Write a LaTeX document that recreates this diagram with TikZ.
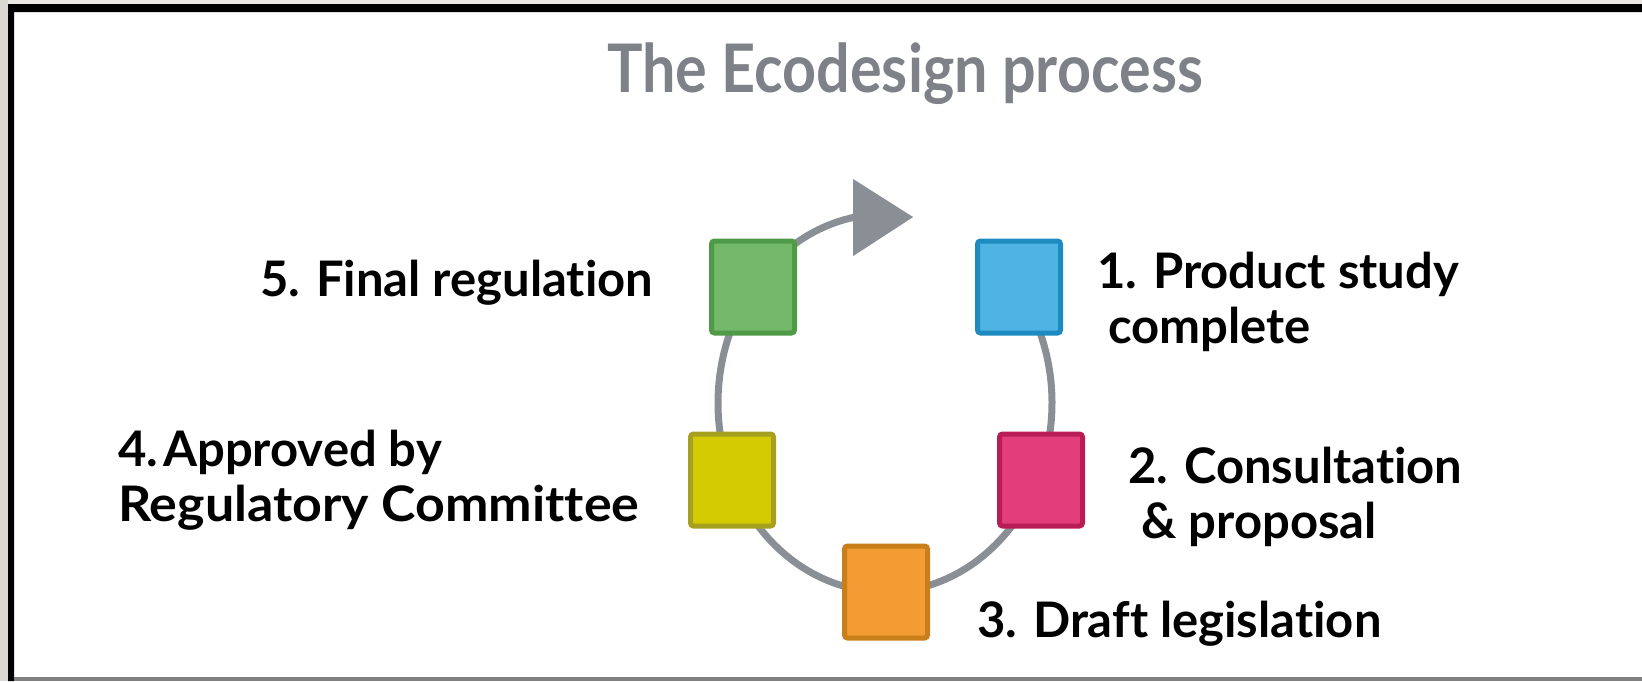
\documentclass[tikz,border=0pt]{standalone}
\usepackage{fontspec}
\setmainfont{Lato}[Ligatures=NoCommon]
\tikzset{
  stepbox/.style={draw, line width=5pt, rounded corners=3pt, minimum width=83pt, minimum height=92pt},
  steplabel/.style={anchor=base west, align=left, font=\bfseries\fontsize{49}{55}\selectfont, inner sep=0pt}
}
\begin{document}
\begin{tikzpicture}[x=1pt, y=1pt]
\definecolor{frame}{HTML}{DAD8D2}
\definecolor{cycle}{HTML}{8A8E95}
\definecolor{title}{HTML}{7E8188}
\useasboundingbox (0,0) rectangle (1642,-681);
% window frame
\fill[frame] (0,0) rectangle (8,-681);
\fill[frame!60] (8,0) rectangle (1642,-4);
\fill[black] (8,-4) rectangle (14,-681) (8,-4) rectangle (1642,-12);
\fill[gray] (14,-677) rectangle (1642,-681);
% title
\node[anchor=base, text=title, font=\bfseries\fontsize{67}{70}\selectfont, inner sep=0pt] (title) at (905,-92) {\scalebox{0.885}[1]{The Ecodesign process}};
% cycle
\coordinate (centre) at (885,-403);
\draw[cycle, line width=7pt] (centre) ++(40:167 and 189) arc[start angle=40, end angle=-259.7, x radius=167, y radius=189] coordinate (tail);
\fill[cycle] ([shift={(-2,38)}]tail) -- ++(60,-38) -- ++(-60,-39) -- cycle;
% boxes
\definecolor{col}{HTML}{4FB3E3}\definecolor{edge}{HTML}{1D8AC0}
\node[stepbox, fill=col, draw=edge] (study) at (1019,-287) {};
\definecolor{col}{HTML}{E33E7A}\definecolor{edge}{HTML}{B81E55}
\node[stepbox, fill=col, draw=edge] (consult) at (1041,-480) {};
\definecolor{col}{HTML}{F39C33}\definecolor{edge}{HTML}{C87E1A}
\node[stepbox, fill=col, draw=edge] (draft) at (886,-592) {};
\definecolor{col}{HTML}{D4CC00}\definecolor{edge}{HTML}{A6A020}
\node[stepbox, fill=col, draw=edge] (approved) at (732,-480) {};
\definecolor{col}{HTML}{74B86A}\definecolor{edge}{HTML}{4E9A47}
\node[stepbox, fill=col, draw=edge] (final) at (753,-287) {};
% labels (base = last line)
\node[steplabel] (studytext) at (1097,-343) {1. Product study\\\hspace*{11pt}complete};
\node[steplabel] (consulttext) at (1128,-538) {2. Consultation\\\hspace*{13pt}\& proposal};
\node[steplabel] (drafttext) at (977,-637) {3. Draft legislation};
\node[steplabel] (approvedtext) at (118,-521) {4.\hspace{5pt}Approved by\\\scalebox{1.06}[1]{Regulatory Committee}};
\node[steplabel] (finaltext) at (260,-296) {5. Final regulation};
\end{tikzpicture}
\end{document}
